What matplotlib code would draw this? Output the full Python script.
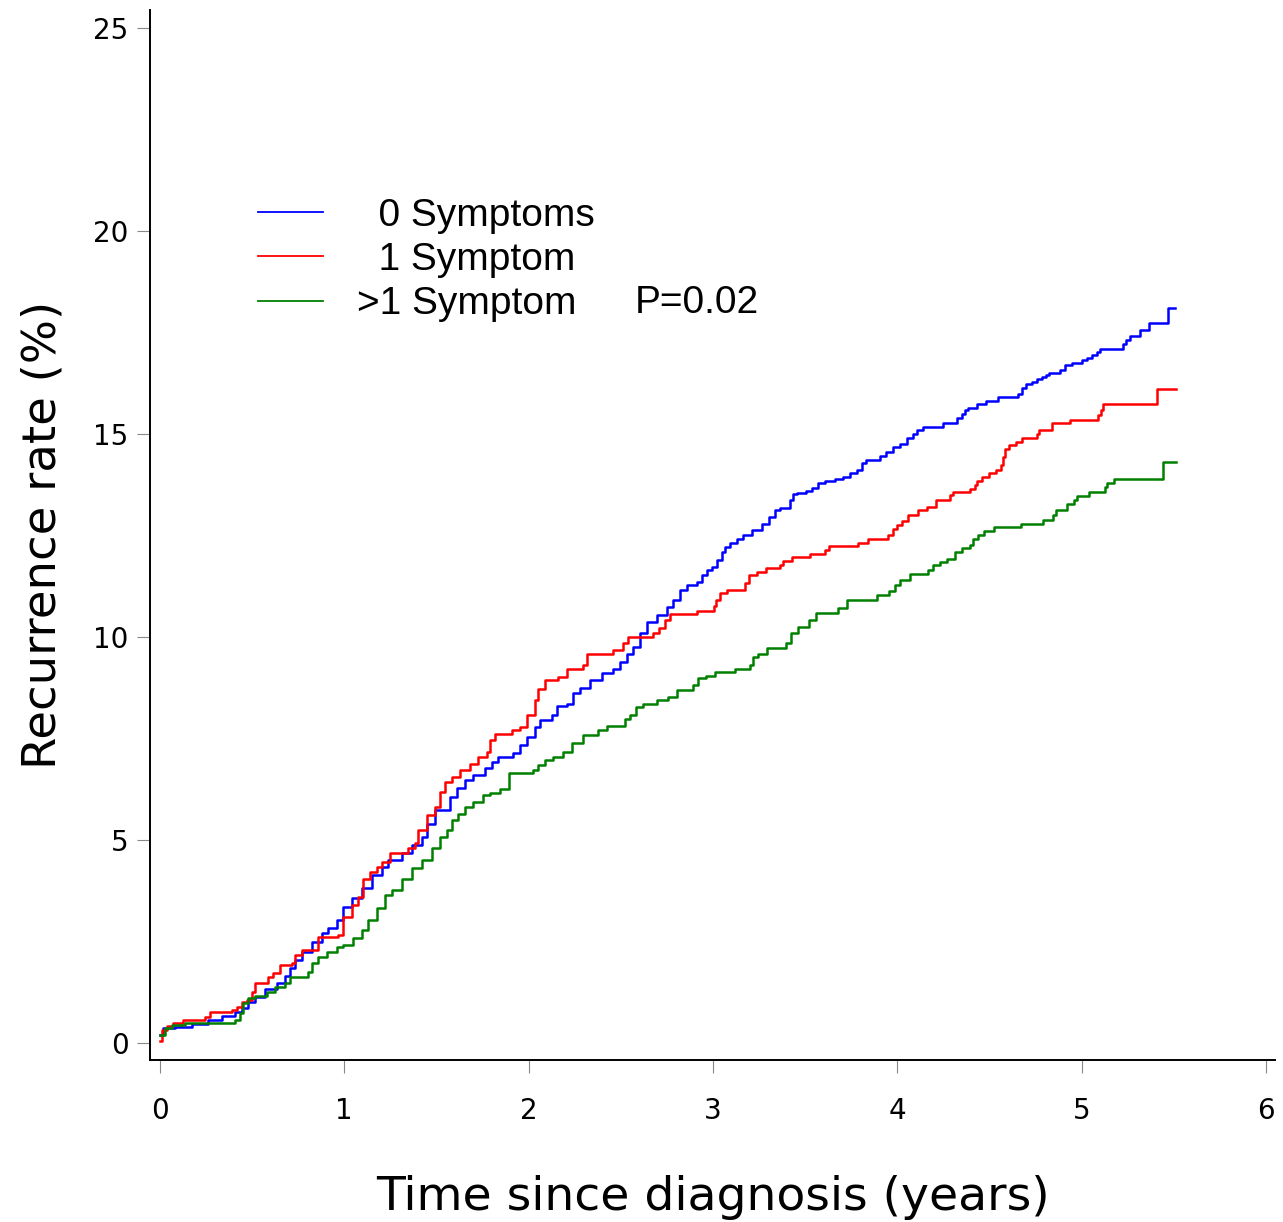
import matplotlib
matplotlib.use("Agg")
import matplotlib.pyplot as plt

# cumulative recurrence (%), step knots (years, %)
t_blue = [0.0, 0.018, 0.081, 0.172, 0.262, 0.335, 0.407, 0.443, 0.479, 0.515, 0.57, 0.633,
          0.678, 0.705, 0.732, 0.769, 0.823, 0.877, 0.913, 0.959, 0.995, 1.04, 1.094, 1.149,
          1.203, 1.239, 1.311, 1.366, 1.42, 1.45, 1.492, 1.574, 1.61, 1.655, 1.70, 1.763,
          1.80, 1.836, 1.917, 1.953, 1.99, 2.035, 2.062, 2.125, 2.152, 2.207, 2.243, 2.279,
          2.333, 2.397, 2.46, 2.496, 2.532, 2.568, 2.604, 2.641, 2.695, 2.749, 2.785, 2.821,
          2.858, 2.912, 2.939, 2.966, 2.993, 3.021, 3.048, 3.066, 3.093, 3.129, 3.165, 3.21,
          3.265, 3.306, 3.337, 3.364, 3.418, 3.436, 3.455, 3.505, 3.536, 3.572, 3.608, 3.662,
          3.708, 3.744, 3.78, 3.807, 3.831, 3.907, 3.939, 3.979, 4.015, 4.051, 4.087, 4.109,
          4.142, 4.25, 4.326, 4.35, 4.368, 4.386, 4.435, 4.482, 4.549, 4.657, 4.675, 4.699,
          4.73, 4.757, 4.784, 4.807, 4.825, 4.883, 4.91, 4.947, 5.001, 5.028, 5.055, 5.082,
          5.097, 5.223, 5.241, 5.263, 5.317, 5.368, 5.471, 5.507]
y_blue = [0.2, 0.36, 0.39, 0.47, 0.57, 0.66, 0.75, 0.85, 1.02, 1.14, 1.32, 1.47,
          1.65, 1.84, 2.04, 2.25, 2.49, 2.70, 2.82, 3.03, 3.36, 3.56, 3.81, 4.14,
          4.34, 4.51, 4.67, 4.87, 5.08, 5.4, 5.74, 6.06, 6.29, 6.47, 6.60, 6.76,
          6.93, 7.05, 7.13, 7.34, 7.54, 7.79, 7.95, 8.07, 8.30, 8.36, 8.61, 8.73,
          8.94, 9.12, 9.22, 9.39, 9.59, 9.76, 10.09, 10.37, 10.54, 10.74, 10.91, 11.15,
          11.29, 11.36, 11.52, 11.64, 11.73, 11.89, 12.10, 12.22, 12.32, 12.42, 12.51, 12.63,
          12.79, 12.96, 13.12, 13.18, 13.37, 13.52, 13.55, 13.60, 13.66, 13.80, 13.84, 13.88,
          13.94, 14.03, 14.12, 14.29, 14.35, 14.45, 14.56, 14.68, 14.76, 14.89, 14.99, 15.09,
          15.18, 15.27, 15.38, 15.50, 15.60, 15.64, 15.73, 15.80, 15.91, 15.99, 16.12, 16.22,
          16.28, 16.34, 16.39, 16.45, 16.50, 16.58, 16.69, 16.75, 16.81, 16.87, 16.94, 17.02,
          17.10, 17.22, 17.31, 17.41, 17.55, 17.74, 18.10, 18.10]

t_red = [0.0, 0.013, 0.036, 0.072, 0.127, 0.244, 0.271, 0.389, 0.416, 0.443, 0.47, 0.497,
         0.515, 0.588, 0.615, 0.651, 0.715, 0.732, 0.769, 0.859, 0.967, 0.995, 1.04, 1.076,
         1.103, 1.139, 1.176, 1.203, 1.248, 1.347, 1.384, 1.402, 1.447, 1.492, 1.519, 1.546,
         1.583, 1.628, 1.682, 1.727, 1.773, 1.791, 1.818, 1.908, 1.953, 1.99, 2.035, 2.053,
         2.089, 2.161, 2.207, 2.297, 2.315, 2.46, 2.514, 2.541, 2.677, 2.709, 2.74, 2.767,
         2.912, 3.003, 3.017, 3.039, 3.075, 3.174, 3.193, 3.237, 3.288, 3.364, 3.382, 3.427,
         3.527, 3.608, 3.63, 3.789, 3.843, 3.952, 3.979, 3.997, 4.024, 4.06, 4.114, 4.16,
         4.21, 4.287, 4.30, 4.392, 4.422, 4.435, 4.458, 4.50, 4.536, 4.561, 4.572, 4.585,
         4.608, 4.645, 4.675, 4.757, 4.771, 4.838, 4.937, 5.091, 5.104, 5.115, 5.408, 5.51]
y_red = [0.05, 0.32, 0.42, 0.50, 0.57, 0.65, 0.75, 0.81, 0.89, 1.02, 1.06, 1.26,
         1.47, 1.63, 1.72, 1.92, 1.96, 2.17, 2.29, 2.62, 2.66, 3.11, 3.40, 3.60,
         4.05, 4.22, 4.34, 4.46, 4.67, 4.79, 4.92, 5.24, 5.61, 5.82, 6.19, 6.43,
         6.56, 6.72, 6.87, 7.05, 7.17, 7.46, 7.62, 7.71, 7.79, 8.07, 8.44, 8.71,
         8.94, 9.02, 9.22, 9.31, 9.59, 9.69, 9.84, 10.00, 10.09, 10.21, 10.41, 10.56,
         10.64, 10.76, 10.91, 11.07, 11.15, 11.32, 11.52, 11.60, 11.69, 11.78, 11.87, 11.96,
         12.04, 12.14, 12.24, 12.32, 12.40, 12.51, 12.67, 12.75, 12.86, 13.00, 13.12, 13.20,
         13.38, 13.49, 13.57, 13.64, 13.74, 13.84, 13.93, 14.03, 14.11, 14.23, 14.43, 14.62,
         14.72, 14.80, 14.90, 14.99, 15.09, 15.26, 15.35, 15.46, 15.58, 15.73, 16.10, 16.10]

t_green = [0.0, 0.027, 0.063, 0.136, 0.407, 0.434, 0.452, 0.479, 0.515, 0.579, 0.624, 0.678,
           0.705, 0.805, 0.823, 0.859, 0.904, 0.959, 0.995, 1.049, 1.094, 1.13, 1.176, 1.221,
           1.257, 1.311, 1.366, 1.42, 1.474, 1.519, 1.556, 1.583, 1.619, 1.655, 1.70, 1.754,
           1.791, 1.845, 1.895, 2.026, 2.053, 2.089, 2.134, 2.188, 2.234, 2.297, 2.378, 2.424,
           2.523, 2.55, 2.583, 2.622, 2.695, 2.758, 2.803, 2.894, 2.921, 2.964, 3.011, 3.12,
           3.201, 3.219, 3.246, 3.295, 3.396, 3.422, 3.463, 3.523, 3.559, 3.68, 3.726, 3.889,
           3.957, 3.988, 4.015, 4.069, 4.169, 4.196, 4.229, 4.268, 4.313, 4.35, 4.392, 4.41,
           4.44, 4.471, 4.525, 4.67, 4.793, 4.847, 4.862, 4.92, 4.96, 4.977, 5.042, 5.128,
           5.14, 5.176, 5.444, 5.51]
y_green = [0.2, 0.36, 0.44, 0.48, 0.57, 0.73, 0.98, 1.10, 1.16, 1.26, 1.39, 1.48,
           1.63, 1.75, 1.96, 2.12, 2.25, 2.37, 2.41, 2.58, 2.78, 3.03, 3.32, 3.64,
           3.77, 4.05, 4.30, 4.5, 4.8, 5.08, 5.24, 5.49, 5.65, 5.82, 5.94, 6.11,
           6.16, 6.25, 6.64, 6.72, 6.84, 6.97, 7.05, 7.17, 7.39, 7.58, 7.71, 7.80,
           7.97, 8.07, 8.28, 8.35, 8.44, 8.53, 8.69, 8.81, 8.98, 9.04, 9.14, 9.22,
           9.31, 9.50, 9.58, 9.72, 9.84, 10.09, 10.25, 10.41, 10.59, 10.70, 10.92, 11.03,
           11.13, 11.28, 11.40, 11.55, 11.65, 11.77, 11.85, 11.93, 12.10, 12.18, 12.26, 12.42,
           12.51, 12.61, 12.70, 12.77, 12.88, 13.00, 13.12, 13.27, 13.38, 13.47, 13.57, 13.70,
           13.78, 13.88, 14.31, 14.31]

labels = ["  0 Symptoms", "  1 Symptom", ">1 Symptom"]
x_ticks = [0, 1, 2, 3, 4, 5, 6]
y_ticks = [0, 5, 10, 15, 20, 25]

fig = plt.figure(figsize=(12.83, 12.22), dpi=100)
ax = fig.add_axes([150 / 1283, 1 - 1060 / 1222, 1125 / 1283, 1050 / 1222])

ax.plot(t_blue, y_blue, drawstyle="steps-post", color="#0000ff", lw=1.8, label=labels[0])
ax.plot(t_red, y_red, drawstyle="steps-post", color="#ff0000", lw=1.8, label=labels[1])
ax.plot(t_green, y_green, drawstyle="steps-post", color="#008000", lw=1.8, label=labels[2])

ax.set_xlim(-0.054, 6.049)
ax.set_ylim(-0.42, 25.44)
ax.set_xticks(x_ticks)
ax.set_yticks(y_ticks)
ax.tick_params(axis="both", direction="out", length=9.5, width=0.8, color="#888888",
               labelsize=20, labelcolor="black")
ax.tick_params(axis="x", pad=17)
ax.tick_params(axis="y", pad=6)
for s in ["top", "right"]:
    ax.spines[s].set_visible(False)
for s in ["left", "bottom"]:
    ax.spines[s].set_linewidth(1.4)

ax.set_xlabel("Time since diagnosis (years)", fontsize=34, labelpad=36)
ax.set_ylabel("Recurrence rate (%)", fontsize=33.5, labelpad=20)

leg = ax.legend(loc="upper left", bbox_to_anchor=(0.096, 0.8214), frameon=False,
                prop={"family": "Liberation Sans", "size": 28}, handlelength=1.67,
                handletextpad=0.87, borderpad=0, borderaxespad=0, labelspacing=0.215)
for h in leg.get_lines():
    h.set_linewidth(1.3)
ax.text(0.431, 0.721, "P=0.02", transform=ax.transAxes, family="Liberation Sans",
        fontsize=28, va="center", ha="left")

fig.savefig("out.png", dpi=100)
